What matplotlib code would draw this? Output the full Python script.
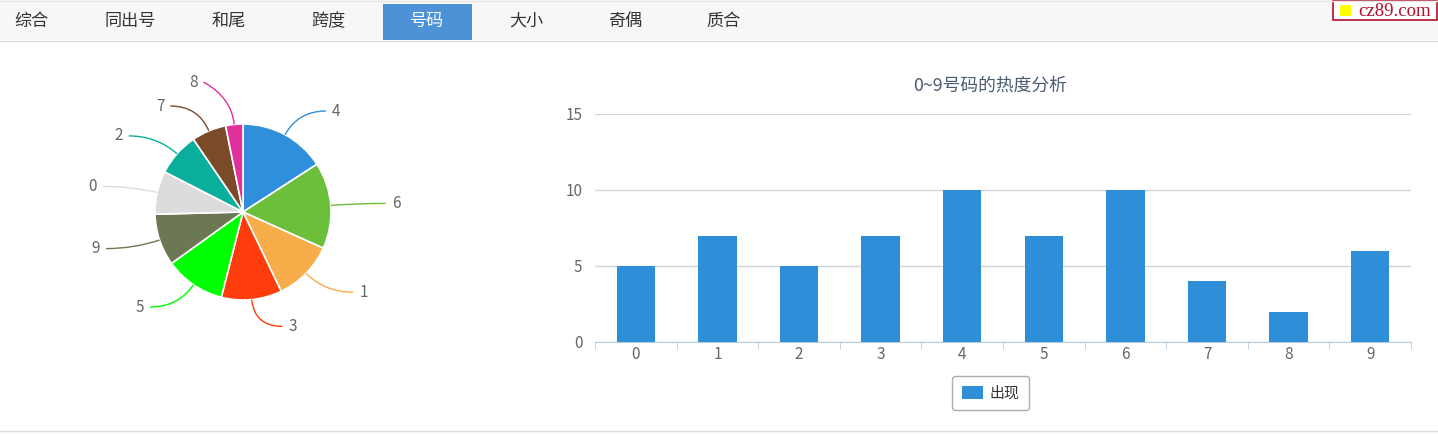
"""
号码热度分析: pie of digit counts plus bar chart, with the tab bar on top
"""
import matplotlib
matplotlib.use("Agg")
import matplotlib.pyplot as plt
from matplotlib.patches import Rectangle, PathPatch
from matplotlib.path import Path
import numpy as np

plt.rcParams['font.family'] = ['Noto Sans CJK SC', 'DejaVu Sans']

# data
digits = ['0', '1', '2', '3', '4', '5', '6', '7', '8', '9']
counts = [5, 7, 5, 7, 10, 7, 10, 4, 2, 6]
tabs = ['综合', '同出号', '和尾', '跨度', '号码', '大小', '奇偶', '质合']
active_tab = '号码'
title = '0~9号码的热度分析'
series_name = '出现'

# style
pie_colors = {'4': '#2f8fdb', '6': '#6cbf3b', '1': '#f7ad4a', '3': '#ff3c0c',
              '5': '#00ff00', '9': '#6b7853', '0': '#dcdcdc', '2': '#0aaf9b',
              '7': '#7a4a29', '8': '#e0309c'}
bar_color = '#2e8fd8'

W, H = 1438, 434


def fx(px):
    return px / W


def fy(py):
    return 1 - py / H


fig = plt.figure(figsize=(W / 100, H / 100), dpi=100)
fig.patch.set_facecolor('white')

# tab bar
fig.patches.append(Rectangle((0, fy(40)), 1, fy(0) - fy(40), transform=fig.transFigure,
                             facecolor='#f7f7f7', edgecolor='none', zorder=0))
fig.lines.append(plt.Line2D([0, 1], [fy(40.5), fy(40.5)], transform=fig.transFigure,
                            color='#dddddd', lw=1))
fig.lines.append(plt.Line2D([0, 1], [fy(0.5), fy(0.5)], transform=fig.transFigure,
                            color='#e6e6e6', lw=1))
fig.lines.append(plt.Line2D([0, 1], [fy(430.5), fy(430.5)], transform=fig.transFigure,
                            color='#dddddd', lw=1))
for i, name in enumerate(tabs):
    cx = 31 + 99 * i
    if name == active_tab:
        fig.patches.append(Rectangle((fx(383), fy(40)), fx(472) - fx(383), fy(4) - fy(40),
                                     transform=fig.transFigure, facecolor='#4d92d6',
                                     edgecolor='none', zorder=1))
        col = 'white'
    else:
        col = '#333333'
    fig.text(fx(cx), fy(21), name, ha='center', va='center', fontsize=12.3, color=col, zorder=2)

# logo
fig.patches.append(Rectangle((fx(1333), fy(20)), fx(1437) - fx(1333), fy(1) - fy(20),
                             transform=fig.transFigure, facecolor='white',
                             edgecolor='#b0102a', lw=1.2, zorder=1))
fig.patches.append(Rectangle((fx(1340), fy(16)), fx(1351) - fx(1340), fy(5) - fy(16),
                             transform=fig.transFigure, facecolor='#ffff00',
                             edgecolor='none', zorder=2))
fig.text(fx(1395), fy(11), 'cz89.com', ha='center', va='center', fontsize=13.5,
         family='Liberation Serif', color='#b0102a', zorder=2)

# pie
R = 88.0
cxp, cyp, half = 243, 212, 160
ax_pie = fig.add_axes([fx(cxp - half), fy(cyp + half), 2 * half / W, 2 * half / H])
order = sorted(range(len(digits)), key=lambda i: -counts[i])
vals = [counts[i] for i in order]
labs = [digits[i] for i in order]
wedges, _ = ax_pie.pie(vals, radius=1, startangle=90, counterclock=False,
                       colors=[pie_colors[d] for d in labs],
                       wedgeprops=dict(edgecolor='white', linewidth=1.2))
ax_pie.set_xlim(-half / R, half / R)
ax_pie.set_ylim(-half / R, half / R)
ax_pie.axis('off')

u = 1 / R
info = []
for w, lab in zip(wedges, labs):
    th = np.deg2rad((w.theta1 + w.theta2) / 2)
    c, s = np.cos(th), np.sin(th)
    p1 = np.array([c, s]) * (1 + 27 * u)
    info.append([lab, c, s, p1, p1[1], w.get_facecolor()])

# simple label overlap avoidance per side
for side in (1, -1):
    group = sorted([d for d in info if (d[1] >= 0) == (side > 0)], key=lambda d: d[4])
    for k in range(1, len(group)):
        group[k][4] = max(group[k][4], group[k - 1][4] + 24 * u)

for lab, c, s, p1, ylab, col in info:
    side = 1 if c >= 0 else -1
    p0 = np.array([c, s])
    p2 = np.array([p1[0] + side * 28 * u, ylab])
    path = Path([p0, p1, p2], [Path.MOVETO, Path.CURVE3, Path.CURVE3])
    ax_pie.add_patch(PathPatch(path, fill=False, edgecolor=col, lw=1))
    ax_pie.text(p2[0] + side * 6 * u, ylab, lab, ha='left' if side > 0 else 'right',
                va='center', fontsize=11, color='#666666')

# bar chart
ax = fig.add_axes([fx(595), fy(342), fx(1411) - fx(595), fy(114) - fy(342)])
x = np.arange(len(digits))
ax.bar(x, counts, width=0.47, color=bar_color, label=series_name, zorder=3)
ax.set_xlim(-0.5, len(digits) - 0.5)
ax.set_ylim(0, 15)
ax.set_yticks([0, 5, 10, 15])
ax.yaxis.grid(True, color='#cfd5db', lw=1)
ax.set_axisbelow(True)
for sp in ['top', 'right', 'left']:
    ax.spines[sp].set_visible(False)
ax.spines['bottom'].set_color('#b9cde0')
ax.tick_params(axis='y', length=0, pad=9, labelsize=11, labelcolor='#666666')
ax.set_xticks(x)
ax.set_xticklabels(digits)
ax.tick_params(axis='x', length=0, pad=3, labelsize=11, labelcolor='#666666')
ax.set_xticks(np.arange(-0.5, len(digits)), minor=True)
ax.tick_params(axis='x', which='minor', length=5, color='#b9cde0')

fig.text(fx(990), fy(85), title, ha='center', va='center', fontsize=12.8, color='#4b5b72')

leg = ax.legend(loc='center', bbox_to_anchor=(fx(990.5), fy(393)),
                bbox_transform=fig.transFigure, fontsize=10.8, frameon=True,
                fancybox=True, handlelength=1.45, handleheight=1.0,
                handletextpad=0.4, borderpad=0.62, labelcolor='#333333')
leg.get_frame().set_edgecolor('#999999')
leg.get_frame().set_linewidth(1)

fig.savefig('out.png', dpi=100, facecolor='white')
